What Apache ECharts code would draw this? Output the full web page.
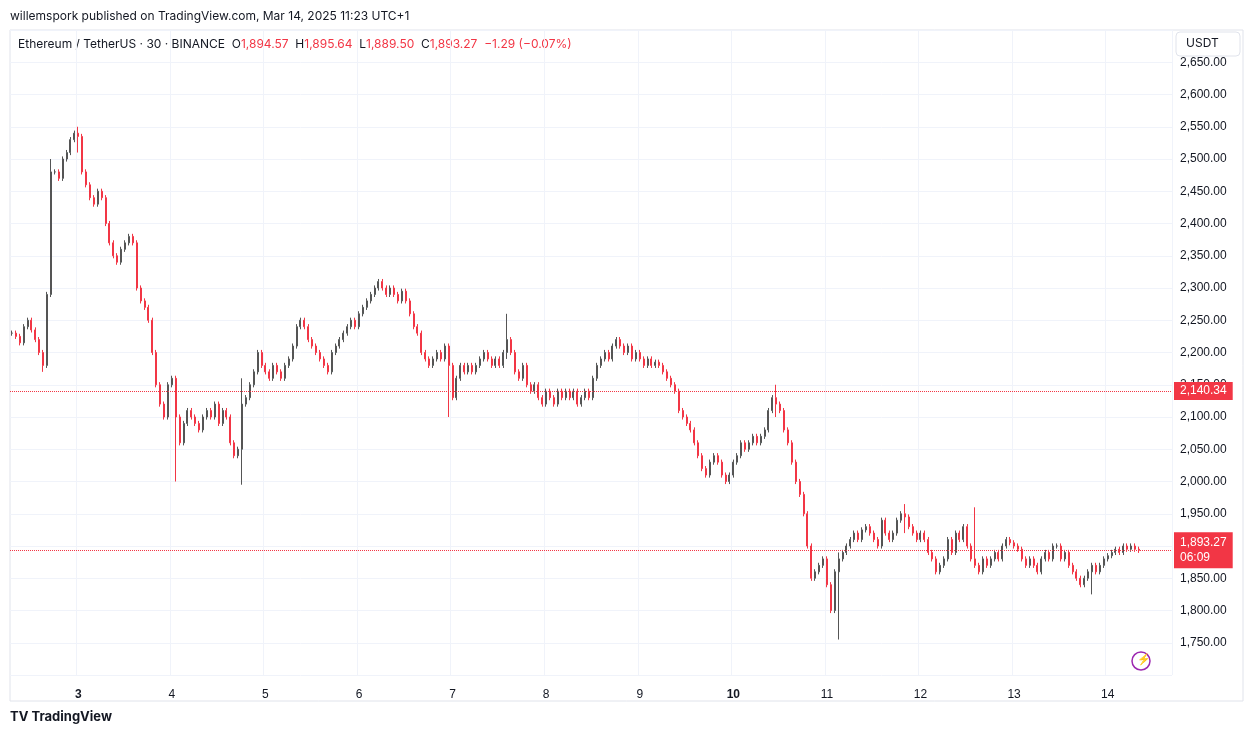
<!DOCTYPE html>
<html>
<head>
<meta charset="utf-8">
<script src="https://cdn.jsdelivr.net/npm/echarts@6/dist/echarts.min.js"></script>
<style>
  body { margin: 0; background: #fff; font-family: 'Inter', 'Noto Sans', sans-serif; }
  #main { width: 1254px; height: 737px; }
</style>
</head>
<body>
<div id="main"></div>
<script>
// hourly closes, starting Mar 2 07:00
const closes = [
  2230, 2225, 2215, 2240, 2250, 2235, 2220, 2200, 2180,
  2290, 2480,
  2480, 2470, 2500, 2510, 2530,
  2540, 2535,
  2480, 2460, 2440, 2430,
  2450, 2440, 2400, 2370,
  2350, 2340, 2360, 2370, 2380, 2370,
  2300, 2280, 2270, 2250,
  2200, 2150, 2120, 2100,
  2150, 2160, 2100, 2060,
  2090, 2110, 2100, 2090, 2080, 2100,
  2110, 2100, 2120, 2090, 2110, 2100,
  2060, 2040, 2050, 2120,
  2130, 2150, 2170, 2200,
  2180, 2170, 2160, 2180, 2170, 2160,
  2180, 2190, 2210, 2240, 2250, 2240,
  2220, 2210, 2200, 2190, 2180, 2170,
  2200, 2210, 2220, 2230, 2240, 2250,
  2240, 2260, 2270, 2280, 2290, 2300,
  2310, 2300, 2290, 2300, 2290, 2280,
  2295, 2280, 2260, 2240, 2230, 2200,
  2190, 2180, 2190, 2200, 2190, 2210,
  2180, 2130, 2160, 2180, 2170, 2180,
  2170, 2180, 2190, 2200, 2190, 2180,
  2190, 2180, 2200, 2220, 2200, 2170,
  2160, 2180, 2150, 2140, 2150, 2130,
  2120, 2140, 2130, 2120, 2140, 2130,
  2140, 2130, 2140, 2120, 2130, 2140,
  2130, 2160, 2180, 2190, 2200, 2190,
  2210, 2220, 2210, 2200, 2210, 2190,
  2200, 2190, 2180, 2190, 2180, 2185,
  2180, 2170, 2160, 2150, 2140, 2110,
  2100, 2090, 2080, 2060, 2040, 2020,
  2010, 2030, 2040, 2030, 2010, 2000,
  2010, 2030, 2040, 2060, 2050, 2060,
  2070, 2060, 2070, 2080, 2110, 2130,
  2120, 2110, 2080, 2060, 2030, 2000,
  1980, 1950, 1900, 1850, 1860, 1870,
  1880, 1840, 1800, 1860, 1880, 1890,
  1900, 1910, 1920, 1910, 1925, 1930,
  1920, 1910, 1900, 1940, 1920, 1910,
  1920, 1940, 1950, 1945, 1930, 1920,
  1910, 1920, 1910, 1890, 1880, 1860,
  1870, 1880, 1910, 1890, 1920, 1910,
  1930, 1900, 1880, 1870, 1860, 1880,
  1870, 1880, 1890, 1880, 1900, 1910,
  1905, 1900, 1895, 1880, 1870, 1880,
  1870, 1860, 1880, 1890, 1880, 1900,
  1900, 1880, 1890, 1870, 1860, 1850,
  1840, 1850, 1860, 1870, 1860, 1870,
  1880, 1885, 1890, 1895, 1890, 1900,
  1895, 1900, 1895, 1893.27
];
// a few long wicks seen in the picture: [index, high, low]
const spikes = [
  [8, 2200, 2170], [10, 2500, 2290], [17, 2550, 2510], [42, 2110, 2000],
  [59, 2160, 1995], [112, 2200, 2100], [127, 2260, 2190], [196, 2150, 2100],
  [212, 1890, 1755], [229, 1965, 1920], [247, 1960, 1880], [277, 1860, 1825]
];
const emptyAfter = 8; // blank space right of the last candle
const lastPrice = 1893.27;
const refPrice = 2140.34;

const start = new Date(2025, 2, 2, 7, 0);
const total = closes.length + emptyAfter;
const times = [];
for (let i = 0; i < total; i++) times.push(new Date(start.getTime() + i * 3600000));
const cats = times.map(t => t.getDate() + ' ' + t.getHours());
const spikeMap = {};
spikes.forEach(s => { spikeMap[s[0]] = s; });
const ohlc = closes.map((c, i) => {
  const o = i === 0 ? c : closes[i - 1];
  let hi = Math.max(o, c) + 4, lo = Math.min(o, c) - 4;
  if (spikeMap[i]) { hi = Math.max(hi, spikeMap[i][1]); lo = Math.min(lo, spikeMap[i][2]); }
  return [o, c, lo, hi];
});
for (let i = 0; i < emptyAfter; i++) ohlc.push('-');

const fmt = v => v.toLocaleString('en-US', { minimumFractionDigits: 2, maximumFractionDigits: 2 });

const chart = echarts.init(document.getElementById('main'));
chart.setOption({
  animation: false,
  graphic: [
    { type: 'rect', shape: { x: 10, y: 30, width: 1233, height: 671 }, style: { fill: 'none', stroke: '#e0e3eb' } },
    { type: 'text', left: 10, top: 10, style: { text: 'willemspork published on TradingView.com, Mar 14, 2025 11:23 UTC+1', fill: '#131722', font: '12px Inter' } },
    { type: 'text', left: 18, top: 38, style: { rich: {
        a: { fill: '#131722', font: '12px Inter' },
        r: { fill: '#f23645', font: '12px Inter' }
      }, text: '{a|Ethereum / TetherUS · 30 · BINANCE  O}{r|1,894.57}{a|  H}{r|1,895.64}{a|  L}{r|1,889.50}{a|  C}{r|1,893.27  −1.29 (−0.07%)}' } },
    { type: 'rect', shape: { x: 1176, y: 32, width: 64, height: 24, r: 4 }, style: { fill: '#fff', stroke: '#e0e3eb' } },
    { type: 'text', left: 1186, top: 37, style: { text: 'USDT', fill: '#131722', font: '12px Inter' } },
    { type: 'text', left: 10, top: 711, style: { text: 'TV TradingView', fill: '#131722', font: 'bold 13px Inter' } },
    { type: 'circle', shape: { cx: 1141, cy: 661, r: 9 }, style: { fill: 'none', stroke: '#9c27b0', lineWidth: 1.5 } },
    { type: 'text', x: 1137, y: 654, style: { text: '⚡', fill: '#9c27b0', font: '11px sans-serif' } }
  ],
  grid: { left: 10, right: 82, top: 30, bottom: 62 },
  xAxis: {
    type: 'category', data: cats, boundaryGap: true,
    axisLine: { show: false }, axisTick: { show: false },
    axisLabel: {
      interval: i => times[i].getHours() === 0,
      formatter: (v, i) => {
        const d = times[i].getDate();
        return (d === 3 || d === 10) ? '{b|' + d + '}' : String(d);
      },
      color: '#131722', fontSize: 12, margin: 14,
      rich: { b: { fontWeight: 'bold', fontSize: 12, color: '#131722' } }
    },
    splitLine: { show: true, interval: i => times[i].getHours() === 0, lineStyle: { color: '#f0f3fa' } }
  },
  yAxis: {
    type: 'value', position: 'right', min: 1700, max: 2700, interval: 50,
    axisLine: { show: false }, axisTick: { show: false },
    axisLabel: { showMinLabel: false, showMaxLabel: false, formatter: fmt, color: '#131722', fontSize: 12, margin: 8 },
    splitLine: { lineStyle: { color: '#f0f3fa' } }
  },
  series: [{
    type: 'candlestick', data: ohlc, barWidth: 1.5,
    itemStyle: { color: '#089981', color0: '#f23645', borderColor: '#555', borderColor0: '#f23645', borderWidth: 1 },
    markLine: {
      symbol: 'none', silent: true,
      lineStyle: { type: 'dotted', color: '#f23645', width: 1 },
      label: { position: 'end', distance: 2, color: '#fff', backgroundColor: '#f23645', padding: [3, 6], fontSize: 12 },
      data: [
        { yAxis: refPrice, label: { formatter: fmt(refPrice) } },
        { yAxis: lastPrice, label: { formatter: fmt(lastPrice) + '\n06:09', lineHeight: 15 } }
      ]
    }
  }]
});
</script>
</body>
</html>
